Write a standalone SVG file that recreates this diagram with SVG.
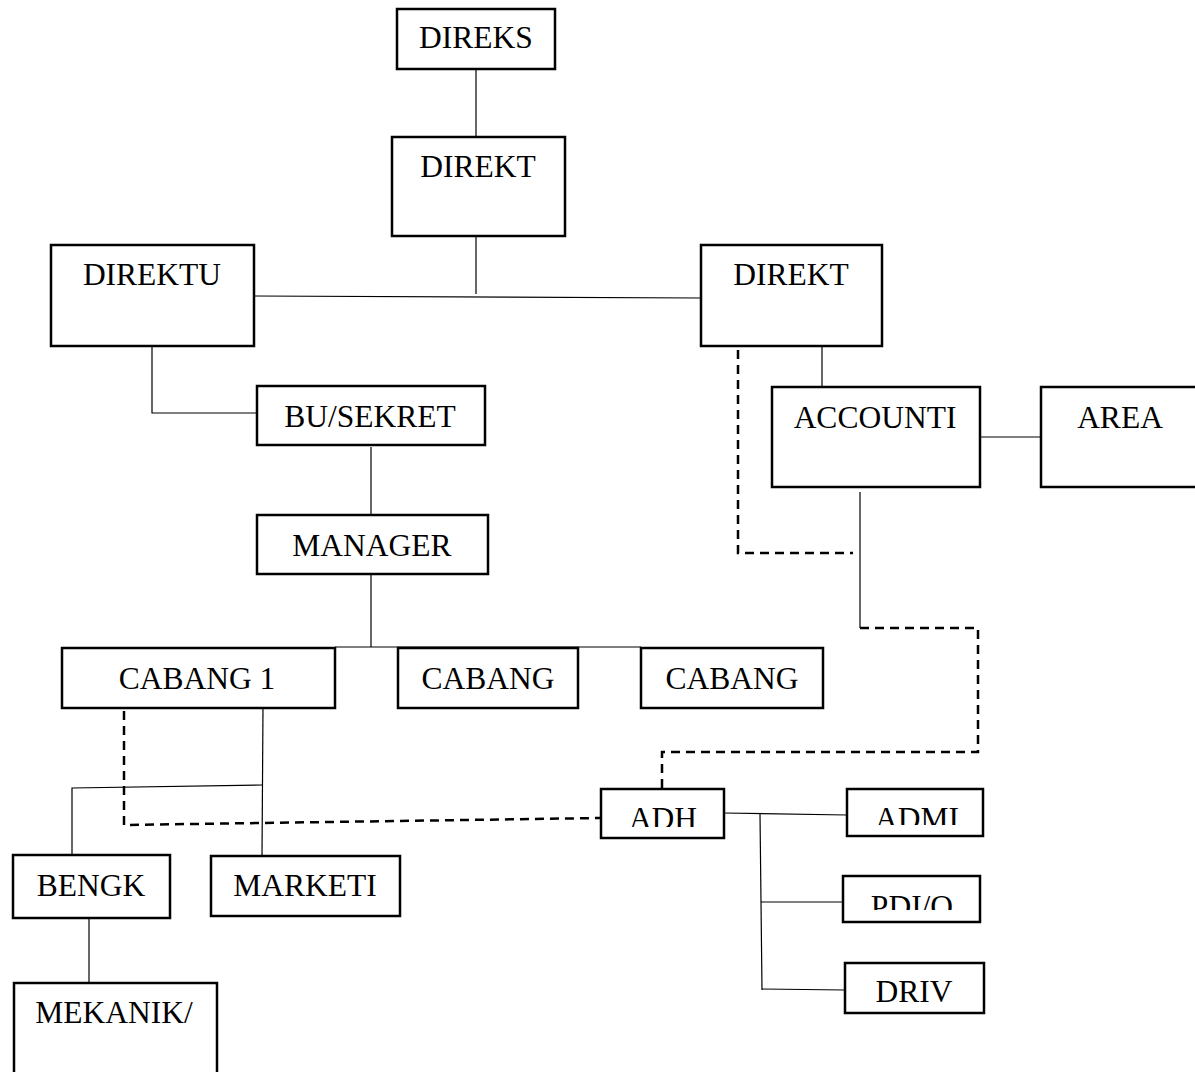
<svg xmlns="http://www.w3.org/2000/svg" width="1195" height="1072" viewBox="0 0 1195 1072">
<style>
.box{fill:#fff;stroke:#000;stroke-width:2.5}
.t{font-family:"Liberation Serif","Times New Roman",serif;font-size:31.5px;fill:#000;text-anchor:middle}
.ln{fill:none;stroke:#000;stroke-width:1.2}
.dash{fill:none;stroke:#000;stroke-width:2.5;stroke-dasharray:9 6}
</style>
<defs>
<clipPath id="cADH"><rect x="601" y="789" width="123" height="38"/></clipPath>
<clipPath id="cADMI"><rect x="847" y="789" width="136" height="36"/></clipPath>
<clipPath id="cPDI"><rect x="843" y="876" width="137" height="34"/></clipPath>
</defs>
<rect width="1195" height="1072" fill="#fff"/>
<g id="connectors">
<line class="ln" x1="476" y1="70" x2="476" y2="137"/>
<line class="ln" x1="476" y1="228" x2="476" y2="294"/>
<line class="ln" x1="254" y1="296" x2="701" y2="298"/>
<line class="ln" x1="822" y1="346" x2="822" y2="387"/>
<line class="ln" x1="979" y1="437" x2="1041" y2="437"/>
<line class="ln" x1="860" y1="492" x2="860" y2="628"/>
<polyline class="ln" points="152,347 152,413 257,413"/>
<line class="ln" x1="371" y1="447" x2="371" y2="515"/>
<line class="ln" x1="371" y1="575" x2="371" y2="647"/>
<line class="ln" x1="335" y1="647" x2="641" y2="647"/>
<line class="ln" x1="263" y1="708" x2="262" y2="856"/>
<polyline class="ln" points="72,855 72,788 262,785"/>
<line class="ln" x1="89" y1="919" x2="89" y2="983"/>
<line class="ln" x1="724" y1="813" x2="847" y2="815"/>
<line class="ln" x1="760" y1="814" x2="762" y2="990"/>
<line class="ln" x1="761" y1="902" x2="843" y2="902"/>
<line class="ln" x1="762" y1="989" x2="845" y2="990"/>
<polyline class="dash" points="738,350 738,553 853,553"/>
<polyline class="dash" points="860,628 978,628 978,752 662,752 662,789"/>
<polyline class="dash" points="124,711 124,825 601,818"/>
</g>
<g id="n-direks"><rect class="box" x="397" y="9" width="158" height="60"/><text class="t" x="476" y="48">DIREKS</text></g>
<g id="n-direkt"><rect class="box" x="392" y="137" width="173" height="99"/><text class="t" x="478" y="177">DIREKT</text></g>
<g id="n-direktu"><rect class="box" x="51" y="245" width="203" height="101"/><text class="t" x="152" y="285">DIREKTU</text></g>
<g id="n-direkt2"><rect class="box" x="701" y="245" width="181" height="101"/><text class="t" x="791" y="285">DIREKT</text></g>
<g id="n-accounti"><rect class="box" x="772" y="387" width="208" height="100"/><text class="t" x="875" y="428">ACCOUNTI</text></g>
<g id="n-area"><rect class="box" x="1041" y="387" width="160" height="100"/><text class="t" x="1120" y="428">AREA</text></g>
<g id="n-busekret"><rect class="box" x="257" y="386" width="228" height="59"/><text class="t" x="370" y="427">BU/SEKRET</text></g>
<g id="n-manager"><rect class="box" x="257" y="515" width="231" height="59"/><text class="t" x="372" y="556">MANAGER</text></g>
<g id="n-cabang1"><rect class="box" x="62" y="648" width="273" height="60"/><text class="t" x="197" y="689">CABANG 1</text></g>
<g id="n-cabang2"><rect class="box" x="398" y="648" width="180" height="60"/><text class="t" x="488" y="689">CABANG</text></g>
<g id="n-cabang3"><rect class="box" x="641" y="648" width="182" height="60"/><text class="t" x="732" y="689">CABANG</text></g>
<g id="n-adh"><rect class="box" x="601" y="789" width="123" height="49"/><text class="t" x="663" y="829" clip-path="url(#cADH)">ADH</text></g>
<g id="n-admi"><rect class="box" x="847" y="789" width="136" height="47"/><text class="t" x="917" y="829" clip-path="url(#cADMI)">ADMI</text></g>
<g id="n-pdio"><rect class="box" x="843" y="876" width="137" height="46"/><text class="t" x="912" y="917" clip-path="url(#cPDI)">PDI/O</text></g>
<g id="n-driv"><rect class="box" x="845" y="963" width="139" height="50"/><text class="t" x="914" y="1002">DRIV</text></g>
<g id="n-bengk"><rect class="box" x="13" y="855" width="157" height="63"/><text class="t" x="91" y="896">BENGK</text></g>
<g id="n-marketi"><rect class="box" x="211" y="856" width="189" height="60"/><text class="t" x="305" y="896">MARKETI</text></g>
<g id="n-mekanik"><rect class="box" x="14" y="983" width="203" height="100"/><text class="t" x="114" y="1023">MEKANIK/</text></g>
</svg>
